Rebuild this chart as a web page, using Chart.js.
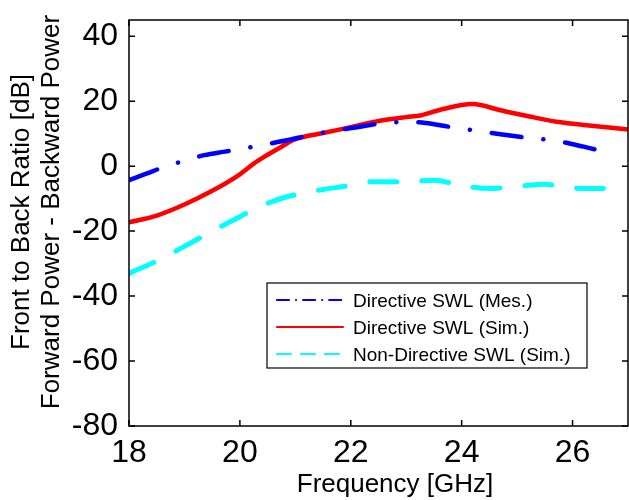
<!DOCTYPE html>
<html>
<head>
<meta charset="utf-8">
<script src="https://cdn.jsdelivr.net/npm/chart.js@4"></script>
<style>
  html, body { margin: 0; padding: 0; background: #fff; }
  #wrap { width: 629px; height: 500px; }
</style>
</head>
<body>
<div id="wrap"><canvas id="chart" width="629" height="500"></canvas></div>
<script>
// Values.
const MES_FREQ = [18.0, 18.3, 18.56, 18.96, 19.36, 19.7, 20.0, 20.4, 20.8, 21.4, 21.8, 22.2, 22.6, 23.0, 23.35, 23.78, 24.2, 24.7, 25.2, 25.7, 26.2, 26.66];
const MES_DIRECTIVE = [-4.3, -2.4, -0.7, 1.5, 3.4, 4.4, 5.2, 6.5, 7.8, 10.0, 11.2, 12.2, 13.3, 13.6, 13.3, 12.1, 11.1, 9.8, 8.7, 7.8, 6.0, 4.1];

const SIM_FREQ = [18.0, 18.5, 19.0, 19.5, 20.0, 20.25, 20.5, 20.75, 21.0, 21.5, 22.0, 22.5, 23.0, 23.25, 23.6, 24.2, 24.7, 25.25, 25.75, 26.25, 27.0];
const SIM_DIRECTIVE = [-17.3, -15.2, -11.8, -7.6, -2.5, 0.8, 3.5, 6.0, 8.3, 10.2, 12.0, 13.9, 15.1, 15.6, 17.3, 19.1, 17.2, 15.2, 13.6, 12.6, 11.3];

const ND_FREQ = [18.0, 18.5, 19.0, 19.5, 20.0, 20.3, 20.6, 20.9, 21.5, 21.9, 22.4, 23.0, 23.5, 24.0, 24.5, 25.0, 25.5, 25.8, 26.2, 27.0];
const SIM_NON_DIRECTIVE = [-33.0, -29.2, -24.7, -20.0, -15.6, -12.8, -10.8, -9.2, -7.2, -6.2, -4.8, -4.8, -4.3, -6.0, -6.9, -6.2, -5.6, -6.2, -6.9, -6.8];

const SERIES_LABELS = ["Directive SWL (Mes.)", "Directive SWL (Sim.)", "Non-Directive SWL (Sim.)"];
const X_TICKS = [18, 20, 22, 24, 26];
const Y_TICKS = [-80, -60, -40, -20, 0, 20, 40];
const X_TITLE = "Frequency [GHz]";
const Y_TITLE = ["Front to Back Ratio [dB]", "Forward Power - Backward Power"];

const FONT = "'Liberation Sans', Arial, Helvetica, sans-serif";

function toPoints(xs, ys) {
  return xs.map((x, i) => ({ x, y: ys[i] }));
}

// legend swatches use their own (smaller) dash patterns
const LEGEND_DASH = [[12, 7, 0.1, 7], [], [14, 10]];

const frameAndText = {
  id: "frameAndText",
  afterDraw(chart) {
    const { ctx, chartArea: a } = chart;
    const xs = chart.scales.x, ys = chart.scales.y;
    ctx.save();

    // axes box, MATLAB style
    ctx.strokeStyle = "#000";
    ctx.lineWidth = 1.5;
    ctx.strokeRect(a.left, a.top, a.right - a.left, a.bottom - a.top);

    // inward tick marks on all four sides
    const tl = 6;
    ctx.beginPath();
    for (const v of X_TICKS) {
      const px = xs.getPixelForValue(v);
      ctx.moveTo(px, a.bottom); ctx.lineTo(px, a.bottom - tl);
      ctx.moveTo(px, a.top); ctx.lineTo(px, a.top + tl);
    }
    for (const v of Y_TICKS) {
      const py = ys.getPixelForValue(v);
      ctx.moveTo(a.left, py); ctx.lineTo(a.left + tl, py);
      ctx.moveTo(a.right, py); ctx.lineTo(a.right - tl, py);
    }
    ctx.stroke();

    // axis titles
    ctx.fillStyle = "#000";
    ctx.font = "26px " + FONT;
    ctx.textAlign = "center";
    ctx.textBaseline = "middle";
    ctx.fillText(X_TITLE, 395, 485);
    Y_TITLE.forEach((line, i) => {
      ctx.save();
      ctx.translate(22 + i * 30, 212);
      ctx.rotate(-Math.PI / 2);
      ctx.fillText(line, 0, 0);
      ctx.restore();
    });

    // legend box
    const box = { x: 267, y: 283, w: 320, h: 85 };
    ctx.fillStyle = "#fff";
    ctx.fillRect(box.x, box.y, box.w, box.h);
    ctx.lineWidth = 1.2;
    ctx.strokeStyle = "#000";
    ctx.strokeRect(box.x, box.y, box.w, box.h);
    ctx.font = "19px " + FONT;
    ctx.textAlign = "left";
    chart.data.datasets.forEach((ds, i) => {
      const ry = 300 + i * 27;
      ctx.save();
      ctx.strokeStyle = ds.borderColor;
      ctx.lineWidth = 2.2;
      ctx.lineCap = "round";
      ctx.setLineDash(LEGEND_DASH[i]);
      ctx.beginPath();
      ctx.moveTo(277, ry);
      ctx.lineTo(343, ry);
      ctx.stroke();
      ctx.restore();
      ctx.fillStyle = "#000";
      ctx.fillText(ds.label, 353, ry + 2);
    });
    ctx.restore();
  },
};

new Chart(document.getElementById("chart"), {
  type: "line",
  data: {
    datasets: [
      {
        label: SERIES_LABELS[0],
        data: toPoints(MES_FREQ, MES_DIRECTIVE),
        borderColor: "#0000ff",
        borderWidth: 4.5,
        borderDash: [30, 22, 0.1, 22],
        borderCapStyle: "round",
        pointRadius: 0,
        cubicInterpolationMode: "monotone",
      },
      {
        label: SERIES_LABELS[1],
        data: toPoints(SIM_FREQ, SIM_DIRECTIVE),
        borderColor: "#ff0000",
        borderWidth: 4.5,
        pointRadius: 0,
        cubicInterpolationMode: "monotone",
      },
      {
        label: SERIES_LABELS[2],
        data: toPoints(ND_FREQ, SIM_NON_DIRECTIVE),
        borderColor: "#00ffff",
        borderWidth: 5,
        borderDash: [27, 25],
        borderCapStyle: "round",
        pointRadius: 0,
        cubicInterpolationMode: "monotone",
      },
    ],
  },
  options: {
    responsive: false,
    animation: false,
    layout: { padding: { left: 0, right: 1, top: 20, bottom: 0 } },
    plugins: { legend: { display: false }, tooltip: { enabled: false } },
    scales: {
      x: {
        type: "linear",
        min: 18,
        max: 27,
        afterBuildTicks: (s) => { s.ticks = X_TICKS.map((v) => ({ value: v })); },
        afterFit: (s) => { s.height = 74; s.paddingLeft = 0; s.paddingRight = 0; },
        grid: { display: false, drawTicks: false },
        border: { display: false },
        ticks: { color: "#000", padding: 8, maxRotation: 0, font: { family: FONT, size: 32 } },
      },
      y: {
        type: "linear",
        min: -80,
        max: 45,
        afterBuildTicks: (s) => { s.ticks = Y_TICKS.map((v) => ({ value: v })); },
        afterFit: (s) => { s.width = 129; s.paddingTop = 0; s.paddingBottom = 0; },
        grid: { display: false, drawTicks: false },
        border: { display: false },
        ticks: { color: "#000", padding: 11, font: { family: FONT, size: 32 } },
      },
    },
  },
  plugins: [frameAndText],
});
</script>
</body>
</html>
